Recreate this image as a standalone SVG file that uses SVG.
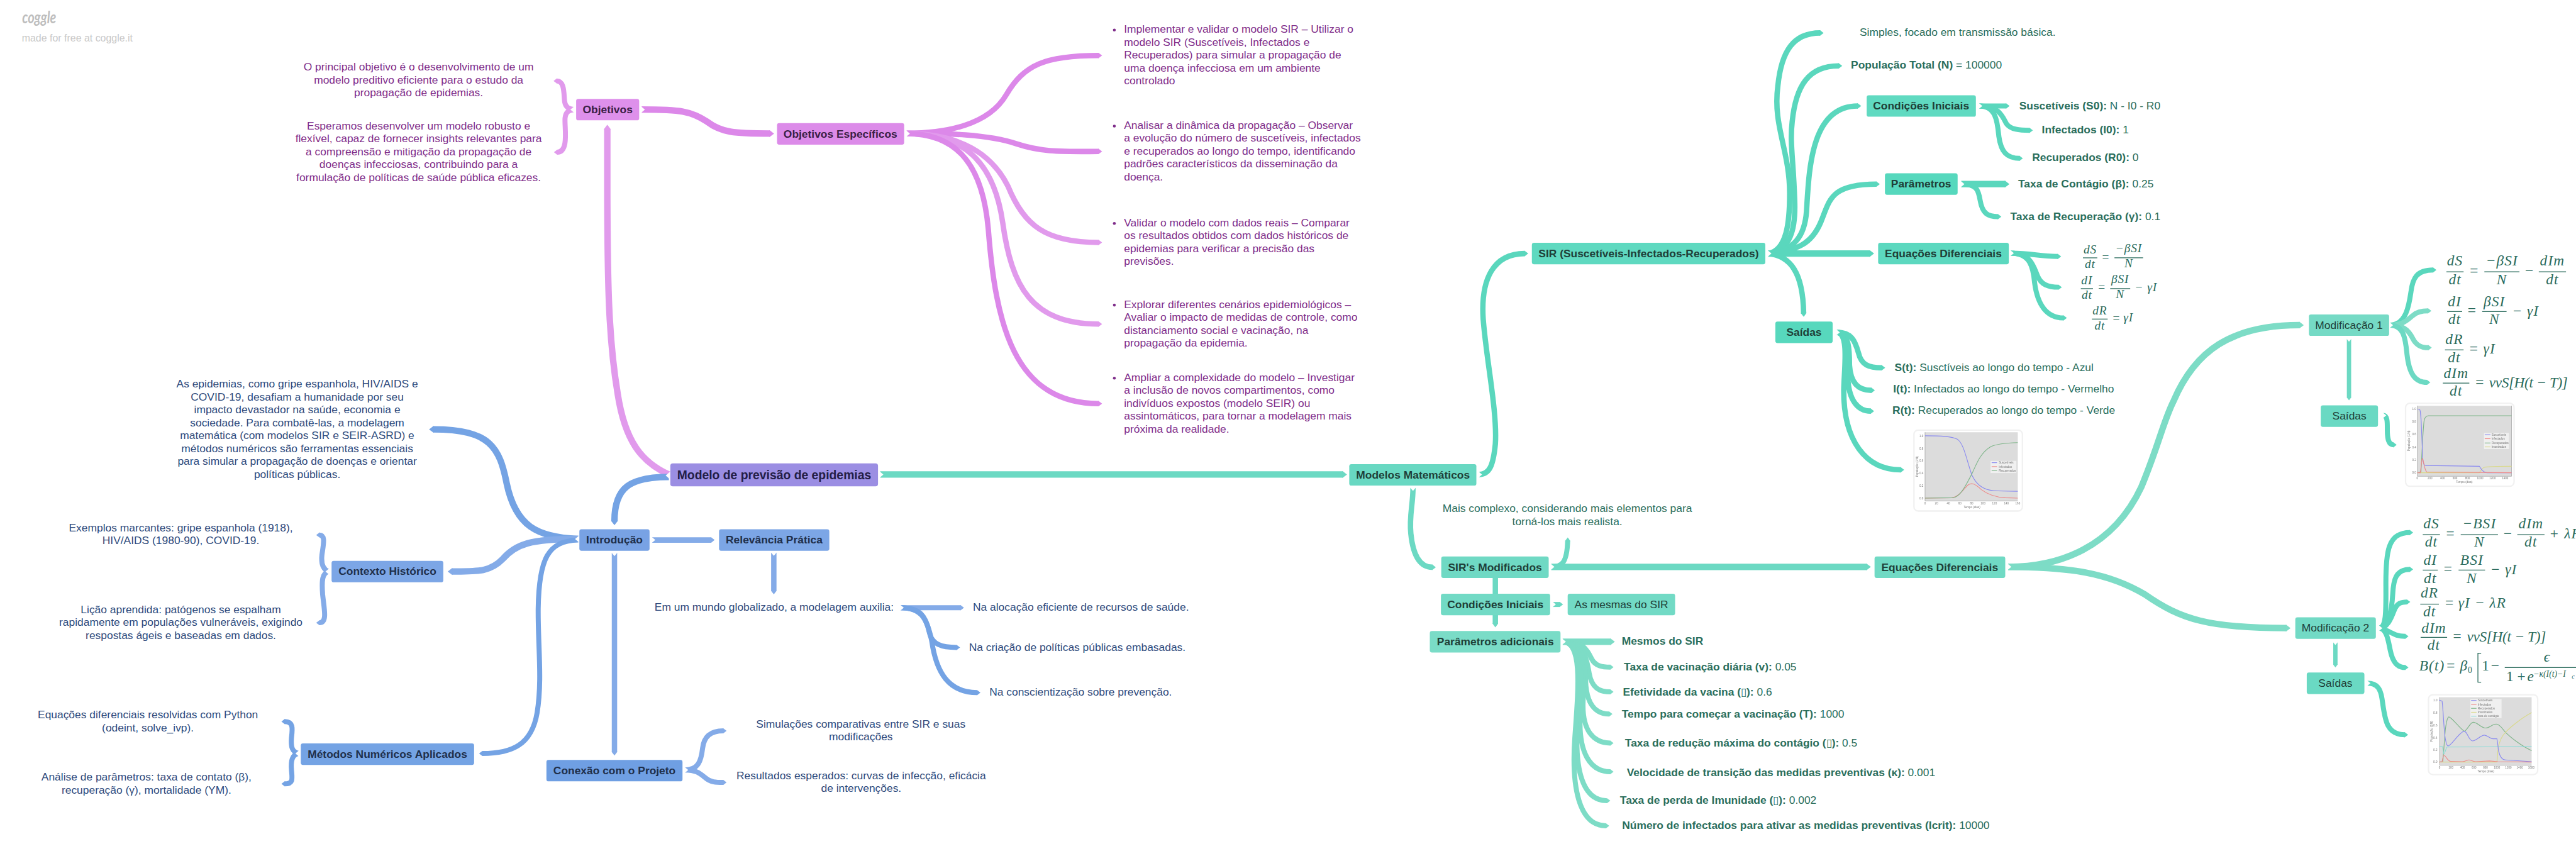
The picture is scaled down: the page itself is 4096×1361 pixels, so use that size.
<svg xmlns="http://www.w3.org/2000/svg" xmlns:xlink="http://www.w3.org/1999/xlink" width="4096" height="1361" viewBox="0 0 4096 1361">
<style>
text{font-family:"Liberation Sans",Arial,sans-serif;font-size:30.6px}
.c{text-anchor:middle}
.b{font-weight:700}
.pt{fill:#7f2d8a}.bt{fill:#2e4a7c}.gt{fill:#2a6e5c}
.pn{fill:#3a2045}.bn{fill:#1f2f4a}.gn{fill:#1f3f38}.vn{fill:#231d45}
.lb{font-weight:700;text-anchor:middle}
.r{font-weight:400}
.pk,.pl,.bl,.bk,.gr,.gl,.gm{fill:none;stroke-width:15}
.pk{stroke:#dc88e9;marker-end:url(#mpk)}
.pl{stroke:#e19aec;marker-end:url(#mpl)}
.bl{stroke:#74a3e4;marker-end:url(#mbl)}
.bk{stroke:#84abe8;marker-end:url(#mbk)}
.gr{stroke:#5ad7bd;marker-end:url(#mgr)}
.gl{stroke:#7ddcc6;marker-end:url(#mgl)}
.gm{stroke:#6cd9c3;marker-end:url(#mgm)}
.w18{stroke-width:18}.w14{stroke-width:14}.w12{stroke-width:12}
.m1,.m2,.mu1,.mu2,.ms{font-family:"Liberation Serif","Times New Roman",serif;fill:#2a6b5c}
.m1,.m2,.ms{font-style:italic}
.m1{letter-spacing:1.5px}.m2{letter-spacing:2px}
.m1,.mu1{font-size:34px}.m2,.mu2{font-size:41px}.ms{font-size:24px}
.fl{stroke:#2a6b5c;stroke-width:2.2}
.plt{fill:#777;font-size:8px}
.pll{fill:none;stroke-width:2}
</style>
<defs>
<marker id="mpk" viewBox="-0.1 -0.6 1 1.2" refX="0" refY="0" markerWidth="1" markerHeight="1.2" orient="auto" markerUnits="strokeWidth"><path d="M-.1-.5L0-.5L.65 0L0 .5L-.1 .5Z" fill="#dc88e9"/></marker>
<marker id="mpl" viewBox="-0.1 -0.6 1 1.2" refX="0" refY="0" markerWidth="1" markerHeight="1.2" orient="auto" markerUnits="strokeWidth"><path d="M-.1-.5L0-.5L.65 0L0 .5L-.1 .5Z" fill="#e19aec"/></marker>
<marker id="mbl" viewBox="-0.1 -0.6 1 1.2" refX="0" refY="0" markerWidth="1" markerHeight="1.2" orient="auto" markerUnits="strokeWidth"><path d="M-.1-.5L0-.5L.65 0L0 .5L-.1 .5Z" fill="#74a3e4"/></marker>
<marker id="mbk" viewBox="-0.1 -0.6 1 1.2" refX="0" refY="0" markerWidth="1" markerHeight="1.2" orient="auto" markerUnits="strokeWidth"><path d="M-.1-.5L0-.5L.65 0L0 .5L-.1 .5Z" fill="#84abe8"/></marker>
<marker id="mgr" viewBox="-0.1 -0.6 1 1.2" refX="0" refY="0" markerWidth="1" markerHeight="1.2" orient="auto" markerUnits="strokeWidth"><path d="M-.1-.5L0-.5L.65 0L0 .5L-.1 .5Z" fill="#5ad7bd"/></marker>
<marker id="mgl" viewBox="-0.1 -0.6 1 1.2" refX="0" refY="0" markerWidth="1" markerHeight="1.2" orient="auto" markerUnits="strokeWidth"><path d="M-.1-.5L0-.5L.65 0L0 .5L-.1 .5Z" fill="#7ddcc6"/></marker>
<marker id="mgm" viewBox="-0.1 -0.6 1 1.2" refX="0" refY="0" markerWidth="1" markerHeight="1.2" orient="auto" markerUnits="strokeWidth"><path d="M-.1-.5L0-.5L.65 0L0 .5L-.1 .5Z" fill="#6cd9c3"/></marker>
<polygon id="n" points="-2,-11 11,0 -2,11" fill="#fff"/>
<filter id="blur"><feGaussianBlur stdDeviation="0.7"/></filter>
</defs>
<rect width="4096" height="1361" fill="#fff"/>
<g transform="scale(0.56937)">
<g id="watermark">
<text x="62" y="65" style="font-family:'Lato',sans-serif;font-style:italic;font-weight:700;font-size:48px;fill:#bdbdbd" textLength="95" lengthAdjust="spacingAndGlyphs">coggle</text>
<text x="61" y="116" style="font-size:28px;fill:#c8c8c8">made for free at coggle.it</text>
</g>
<g id="connectors">
<path class="pl w14" d="M1604,306C1588,304 1580,300 1577,285C1574,265 1578,226 1555,226"/>
<path class="pl w14" d="M1604,306C1588,308 1580,312 1578,330C1576,355 1590,425 1556,425"/>
<path class="pk w18" d="M1792,306C1900,306 1930,310 1975,340C2015,370 2050,373 2150,373"/>
<path class="pl w18" d="M1868,1325C1790,1290 1745,1230 1725,1100C1700,950 1696,800 1696,500L1696,360"/>
<path class="pk" d="M2532,372C2640,372 2760,350 2810,265C2860,180 2920,155 3068,155"/>
<path class="pk" d="M2532,372C2640,372 2760,375 2840,402C2910,425 2960,423 3068,423"/>
<path class="pl" d="M2532,373C2680,373 2770,430 2815,520C2860,630 2920,677 3068,677"/>
<path class="pl" d="M2532,373C2690,373 2775,450 2800,620C2825,800 2880,905 3068,905"/>
<path class="pk" d="M2532,373C2680,373 2745,470 2760,640C2780,900 2830,1127 3068,1127"/>
<path class="bl w18" d="M1868,1332C1760,1332 1716,1360 1716,1455"/>
<path class="bl w18" d="M1615,1505C1500,1500 1440,1470 1415,1350C1395,1250 1370,1199 1210,1199"/>
<path class="bk w18" d="M1615,1505C1480,1505 1440,1520 1405,1560C1370,1596 1340,1596 1262,1596"/>
<path class="bl w14" d="M1615,1508C1530,1510 1505,1560 1503,1700C1502,1800 1515,1900 1500,1990C1485,2080 1430,2104 1347,2104"/>
<path class="bk" d="M1821,1508L1986,1508"/>
<path class="bk" d="M1716,1544L1716,2100"/>
<path class="bk" d="M2161,1543L2161,1650"/>
<path class="bk w14" d="M918,1596C900,1590 897,1570 899,1550C903,1520 910,1494 892,1494"/>
<path class="bk w14" d="M918,1596C900,1600 898,1620 901,1660C905,1700 915,1739 892,1739"/>
<path class="bl w14" d="M834,2104C815,2100 812,2085 814,2060C817,2035 820,2015 795,2015"/>
<path class="bl w14" d="M834,2104C815,2108 812,2125 814,2150C816,2175 820,2189 795,2189"/>
<path class="bk w14" d="M1913,2150C1950,2150 1958,2125 1962,2090C1966,2055 1985,2041 2020,2041"/>
<path class="bk w14" d="M1913,2150C1945,2150 1955,2160 1970,2172C1985,2185 2000,2185 2020,2185"/>
<path class="bk w14" d="M2515,1697L2683,1697"/>
<path class="bl w14" d="M2515,1697C2570,1697 2585,1720 2595,1765C2602,1800 2630,1808 2672,1808"/>
<path class="bl w14" d="M2515,1697C2575,1697 2590,1730 2602,1790C2615,1880 2650,1934 2729,1934"/>
<path class="gm w18" d="M2458,1325L3750,1325"/>
<path class="gr" d="M4130,1325C4160,1325 4170,1300 4176,1240C4182,1150 4150,1000 4142,890C4135,780 4170,708 4258,708"/>
<path class="gm" d="M3946,1362C3946,1410 3935,1440 3940,1490C3946,1550 3965,1584 4000,1584"/>
<path class="gm w14" d="M4332,1583C4360,1583 4376,1575 4378,1510"/>
<path class="gm w18" d="M4332,1583L5213,1583"/>
<path class="gm" d="M4176,1610L4176,1742"/>
<path class="gm w14" d="M4336,1688L4356,1688"/>
<path class="gl w18" d="M4364,1792L4498,1792"/>
<path class="gl w14" d="M4364,1792C4420,1792 4430,1810 4445,1840C4455,1860 4475,1863 4497,1863"/>
<path class="gl w14" d="M4364,1792C4420,1792 4430,1830 4438,1880C4445,1920 4465,1932 4497,1932"/>
<path class="gl w14" d="M4364,1792C4420,1792 4428,1850 4428,1900C4430,1965 4455,1994 4494,1994"/>
<path class="gl w14" d="M4364,1792C4420,1792 4425,1870 4421,1960C4418,2040 4450,2075 4497,2075"/>
<path class="gl w14" d="M4364,1792C4420,1792 4420,1900 4413,2000C4408,2100 4440,2155 4497,2155"/>
<path class="gl w14" d="M4364,1792C4420,1792 4415,1900 4405,2030C4398,2150 4420,2236 4488,2236"/>
<path class="gl w14" d="M4364,1792C4420,1792 4408,1920 4398,2060C4388,2200 4410,2306 4485,2306"/>
<path class="gr" d="M4938,708C4990,700 4998,620 4998,540C4998,420 4950,350 4965,240C4975,140 5010,92 5083,92"/>
<path class="gr" d="M4938,708C5000,700 5015,640 5012,560C5008,440 4998,400 5005,340C5015,240 5050,184 5135,184"/>
<path class="gr" d="M4938,708C5010,700 5040,660 5045,590C5052,480 5055,296 5188,296"/>
<path class="gr" d="M4938,708C5020,700 5060,680 5085,620C5110,560 5110,514 5240,514"/>
<path class="gr w18" d="M4938,708L5222,708"/>
<path class="gr" d="M4938,708C5000,715 5035,760 5037,875"/>
<path class="gr w14" d="M5527,296L5603,296"/>
<path class="gr w14" d="M5527,296C5580,296 5590,320 5603,345C5615,362 5640,364 5668,364"/>
<path class="gr w14" d="M5527,296C5575,296 5578,340 5582,380C5588,425 5605,442 5640,442"/>
<path class="gr w18" d="M5477,514L5600,514"/>
<path class="gr w14" d="M5477,514C5520,514 5525,530 5530,560C5536,595 5550,605 5580,605"/>
<path class="gr w14" d="M5615,707C5680,707 5690,716 5747,716"/>
<path class="gr w14" d="M5615,707C5670,707 5678,740 5690,770C5700,795 5720,802 5749,802"/>
<path class="gr w14" d="M5615,707C5670,707 5678,745 5682,790C5690,850 5715,888 5763,888"/>
<path class="gr" d="M5129,928C5170,928 5180,950 5190,985C5198,1020 5220,1027 5255,1027"/>
<path class="gr" d="M5129,928C5165,928 5165,980 5165,1020C5168,1070 5190,1090 5226,1090"/>
<path class="gr" d="M5129,928C5165,928 5160,1000 5160,1050C5162,1120 5190,1148 5224,1148"/>
<path class="gr" d="M5129,928C5165,928 5150,1030 5149,1090C5148,1230 5210,1312 5308,1312"/>
<path class="gl w18" d="M5608,1583C5750,1583 5900,1530 5980,1360C6030,1240 6040,1180 6070,1120C6130,980 6230,908 6422,908"/>
<path class="gl w18" d="M5608,1583C5780,1583 5890,1600 5990,1660C6090,1730 6170,1754 6385,1754"/>
<path class="gr w14" d="M6674,908C6720,908 6728,850 6733,815C6738,775 6750,754 6795,754"/>
<path class="gl w14" d="M6674,908C6715,908 6725,890 6740,880C6750,870 6765,868 6781,868"/>
<path class="gl w14" d="M6674,908C6710,908 6725,920 6738,945C6748,965 6762,971 6782,971"/>
<path class="gm w14" d="M6674,908C6715,908 6718,950 6722,990C6728,1045 6745,1068 6778,1068"/>
<path class="gm w12" d="M6560,945L6560,1110"/>
<path class="gr w14" d="M6655,1160C6668,1160 6667,1180 6667,1200C6667,1230 6672,1242 6684,1242"/>
<path class="gr w14" d="M6644,1754C6665,1754 6663,1700 6663,1640C6662,1540 6668,1487 6730,1487"/>
<path class="gr w14" d="M6644,1754C6670,1754 6680,1700 6682,1660C6684,1620 6690,1590 6730,1590"/>
<path class="gr w14" d="M6644,1754C6670,1754 6680,1720 6688,1700C6695,1685 6705,1681 6722,1681"/>
<path class="gr w14" d="M6644,1754C6665,1754 6680,1777 6717,1777"/>
<path class="gr w14" d="M6644,1754C6665,1754 6670,1790 6675,1815C6682,1850 6695,1864 6717,1864"/>
<path class="gm w12" d="M6522,1792L6522,1856"/>
<path class="gr w14" d="M6611,1908C6640,1908 6648,1925 6652,1950C6660,2000 6660,2052 6716,2052"/>
<use href="#n" transform="translate(1604,306) rotate(180)"/>
<use href="#n" transform="translate(1790,306)"/>
<use href="#n" transform="translate(1870,1328) rotate(180)"/>
<use href="#n" transform="translate(2456,1325)"/>
<use href="#n" transform="translate(2530,373)"/>
<use href="#n" transform="translate(1617,1505) rotate(180)"/>
<use href="#n" transform="translate(1819,1508)"/>
<use href="#n" transform="translate(1716,1542) rotate(90)"/>
<use href="#n" transform="translate(2161,1541) rotate(90)"/>
<use href="#n" transform="translate(920,1596) rotate(180)"/>
<use href="#n" transform="translate(836,2104) rotate(180)"/>
<use href="#n" transform="translate(1911,2150)"/>
<use href="#n" transform="translate(2513,1697)"/>
<use href="#n" transform="translate(4128,1325)"/>
<use href="#n" transform="translate(3946,1360) rotate(90)"/>
<use href="#n" transform="translate(4330,1583)"/>
<use href="#n" transform="translate(4334,1688)"/>
<use href="#n" transform="translate(4362,1792)"/>
<use href="#n" transform="translate(4936,708)"/>
<use href="#n" transform="translate(5525,296)"/>
<use href="#n" transform="translate(5475,514)"/>
<use href="#n" transform="translate(5613,707)"/>
<use href="#n" transform="translate(5127,928)"/>
<use href="#n" transform="translate(5606,1583)"/>
<use href="#n" transform="translate(6672,908)"/>
<use href="#n" transform="translate(6560,943) rotate(90)"/>
<use href="#n" transform="translate(6653,1160)"/>
<use href="#n" transform="translate(6642,1754)"/>
<use href="#n" transform="translate(6522,1790) rotate(90)"/>
<use href="#n" transform="translate(6609,1908)"/>
</g>

<g id="node-root"><rect x="1872" y="1294" width="580" height="64" rx="7" fill="#9b8ee3"/><text class="lb vn" x="2162" y="1338" style="font-size:34px">Modelo de previsão de epidemias</text></g>
<g id="node-objetivos"><rect x="1609" y="276" width="176" height="60" rx="6" fill="#de90eb"/><text class="lb pn" x="1697" y="316">Objetivos</text></g>
<g id="node-obj-esp"><rect x="2170" y="344" width="355" height="60" rx="6" fill="#dc8be9"/><text class="lb pn" x="2347" y="384">Objetivos Específicos</text></g>
<g id="text-obj-1" class="pt"><text class="c pt" x="1169" y="197">O principal objetivo é o desenvolvimento de um</text><text class="c pt" x="1169" y="233">modelo preditivo eficiente para o estudo da</text><text class="c pt" x="1169" y="269">propagação de epidemias.</text></g>
<g id="text-obj-2"><text class="c pt" x="1169" y="361">Esperamos desenvolver um modelo robusto e</text><text class="c pt" x="1169" y="397">flexível, capaz de fornecer insights relevantes para</text><text class="c pt" x="1169" y="433">a compreensão e mitigação da propagação de</text><text class="c pt" x="1169" y="469">doenças infecciosas, contribuindo para a</text><text class="c pt" x="1169" y="505">formulação de políticas de saúde pública eficazes.</text></g>
<g id="item-1"><circle cx="3112" cy="84" r="4" fill="#7f2d8a"/><text class="pt" x="3139" y="92">Implementar e validar o modelo SIR – Utilizar o</text><text class="pt" x="3139" y="128">modelo SIR (Suscetíveis, Infectados e</text><text class="pt" x="3139" y="164">Recuperados) para simular a propagação de</text><text class="pt" x="3139" y="200">uma doença infecciosa em um ambiente</text><text class="pt" x="3139" y="236">controlado</text></g>
<g id="item-2"><circle cx="3112" cy="352" r="4" fill="#7f2d8a"/><text class="pt" x="3139" y="360">Analisar a dinâmica da propagação – Observar</text><text class="pt" x="3139" y="396">a evolução do número de suscetíveis, infectados</text><text class="pt" x="3139" y="432">e recuperados ao longo do tempo, identificando</text><text class="pt" x="3139" y="468">padrões característicos da disseminação da</text><text class="pt" x="3139" y="504">doença.</text></g>
<g id="item-3"><circle cx="3112" cy="624" r="4" fill="#7f2d8a"/><text class="pt" x="3139" y="632">Validar o modelo com dados reais – Comparar</text><text class="pt" x="3139" y="668">os resultados obtidos com dados históricos de</text><text class="pt" x="3139" y="704">epidemias para verificar a precisão das</text><text class="pt" x="3139" y="740">previsões.</text></g>
<g id="item-4"><circle cx="3112" cy="852" r="4" fill="#7f2d8a"/><text class="pt" x="3139" y="860">Explorar diferentes cenários epidemiológicos –</text><text class="pt" x="3139" y="896">Avaliar o impacto de medidas de controle, como</text><text class="pt" x="3139" y="932">distanciamento social e vacinação, na</text><text class="pt" x="3139" y="968">propagação da epidemia.</text></g>
<g id="item-5"><circle cx="3112" cy="1056" r="4" fill="#7f2d8a"/><text class="pt" x="3139" y="1064">Ampliar a complexidade do modelo – Investigar</text><text class="pt" x="3139" y="1100">a inclusão de novos compartimentos, como</text><text class="pt" x="3139" y="1136">indivíduos expostos (modelo SEIR) ou</text><text class="pt" x="3139" y="1172">assintomáticos, para tornar a modelagem mais</text><text class="pt" x="3139" y="1208">próxima da realidade.</text></g>

<g id="node-intro"><rect x="1618" y="1478" width="196" height="60" rx="6" fill="#78a2e4"/><text class="lb bn" x="1716" y="1518">Introdução</text></g>
<g id="node-relevancia"><rect x="2008" y="1478" width="308" height="60" rx="6" fill="#7ca6e6"/><text class="lb bn" x="2162" y="1518">Relevância Prática</text></g>
<g id="node-contexto"><rect x="926" y="1566" width="312" height="60" rx="6" fill="#7ca6e6"/><text class="lb bn" x="1082" y="1606">Contexto Histórico</text></g>
<g id="node-metodos"><rect x="840" y="2076" width="484" height="60" rx="6" fill="#74a3e4"/><text class="lb bn" x="1082" y="2116">Métodos Numéricos Aplicados</text></g>
<g id="node-conexao"><rect x="1526" y="2122" width="380" height="60" rx="6" fill="#6f9fe3"/><text class="lb bn" x="1716" y="2162">Conexão com o Projeto</text></g>
<g id="text-epidemias"><text class="c bt" x="830" y="1082">As epidemias, como gripe espanhola, HIV/AIDS e</text><text class="c bt" x="830" y="1118">COVID-19, desafiam a humanidade por seu</text><text class="c bt" x="830" y="1154">impacto devastador na saúde, economia e</text><text class="c bt" x="830" y="1190">sociedade. Para combatê-las, a modelagem</text><text class="c bt" x="830" y="1226">matemática (com modelos SIR e SEIR-ASRD) e</text><text class="c bt" x="830" y="1262">métodos numéricos são ferramentas essenciais</text><text class="c bt" x="830" y="1298">para simular a propagação de doenças e orientar</text><text class="c bt" x="830" y="1334">políticas públicas.</text></g>
<g id="text-exemplos"><text class="c bt" x="505" y="1484">Exemplos marcantes: gripe espanhola (1918),</text><text class="c bt" x="505" y="1520">HIV/AIDS (1980-90), COVID-19.</text></g>
<g id="text-licao"><text class="c bt" x="505" y="1712">Lição aprendida: patógenos se espalham</text><text class="c bt" x="505" y="1748">rapidamente em populações vulneráveis, exigindo</text><text class="c bt" x="505" y="1784">respostas ágeis e baseadas em dados.</text></g>
<g id="text-equacoes"><text class="c bt" x="413" y="2006">Equações diferenciais resolvidas com Python</text><text class="c bt" x="413" y="2042">(odeint, solve_ivp).</text></g>
<g id="text-analise"><text class="c bt" x="409" y="2180">Análise de parâmetros: taxa de contato (β),</text><text class="c bt" x="409" y="2216">recuperação (γ), mortalidade (YM).</text></g>
<g id="text-mundo"><text class="c bt" x="2162" y="1706">Em um mundo globalizado, a modelagem auxilia:</text></g>
<g id="text-alocacao"><text class="bt" x="2717" y="1706">Na alocação eficiente de recursos de saúde.</text></g>
<g id="text-criacao"><text class="bt" x="2706" y="1818">Na criação de políticas públicas embasadas.</text></g>
<g id="text-consc"><text class="bt" x="2763" y="1942">Na conscientização sobre prevenção.</text></g>
<g id="text-simul"><text class="c bt" x="2404" y="2032">Simulações comparativas entre SIR e suas</text><text class="c bt" x="2404" y="2068">modificações</text></g>
<g id="text-result"><text class="c bt" x="2405" y="2176">Resultados esperados: curvas de infecção, eficácia</text><text class="c bt" x="2405" y="2212">de intervenções.</text></g>

<g id="node-modelos"><rect x="3768" y="1296" width="355" height="60" rx="6" fill="#68d8c2"/><text class="lb gn" x="3946" y="1336">Modelos Matemáticos</text></g>
<g id="node-sir"><rect x="4278" y="678" width="652" height="60" rx="6" fill="#5fd9c0"/><text class="lb gn" x="4604" y="718">SIR (Suscetíveis-Infectados-Recuperados)</text></g>
<g id="node-sirmod"><rect x="4025" y="1554" width="300" height="60" rx="6" fill="#6fd9c4"/><text class="lb gn" x="4175" y="1594">SIR's Modificados</text></g>
<g id="node-cond2"><rect x="4024" y="1658" width="305" height="60" rx="6" fill="#72dac5"/><text class="lb gn" x="4176" y="1698">Condições Iniciais</text></g>
<g id="node-mesmas"><rect x="4378" y="1658" width="300" height="60" rx="6" fill="#72dac5"/><text class="c gn" x="4528" y="1698">As mesmas do SIR</text></g>
<g id="node-param2"><rect x="3993" y="1762" width="365" height="60" rx="6" fill="#7adcc7"/><text class="lb gn" x="4176" y="1802">Parâmetros adicionais</text></g>
<g id="node-cond1"><rect x="5213" y="266" width="305" height="60" rx="6" fill="#60dac1"/><text class="lb gn" x="5365" y="306">Condições Iniciais</text></g>
<g id="node-param1"><rect x="5264" y="484" width="203" height="60" rx="6" fill="#56d8bd"/><text class="lb gn" x="5365" y="524">Parâmetros</text></g>
<g id="node-eq1"><rect x="5245" y="678" width="365" height="60" rx="6" fill="#5cd8bf"/><text class="lb gn" x="5427" y="718">Equações Diferenciais</text></g>
<g id="node-saidas1"><rect x="4958" y="898" width="160" height="60" rx="6" fill="#57d8bd"/><text class="lb gn" x="5038" y="938">Saídas</text></g>
<g id="node-eq2"><rect x="5235" y="1554" width="365" height="60" rx="6" fill="#70dac4"/><text class="lb gn" x="5417" y="1594">Equações Diferenciais</text></g>
<g id="node-mod1"><rect x="6448" y="878" width="224" height="60" rx="6" fill="#75dac5"/><text class="c gn" x="6560" y="918">Modificação 1</text></g>
<g id="node-saidas-m1"><rect x="6481" y="1132" width="160" height="60" rx="6" fill="#6ad9c3"/><text class="c gn" x="6561" y="1172">Saídas</text></g>
<g id="node-mod2"><rect x="6410" y="1724" width="225" height="60" rx="6" fill="#72dac5"/><text class="c gn" x="6522" y="1764">Modificação 2</text></g>
<g id="node-saidas-m2"><rect x="6442" y="1878" width="161" height="60" rx="6" fill="#6ad9c3"/><text class="c gn" x="6522" y="1918">Saídas</text></g>

<g id="text-mais"><text class="c gt" x="4377" y="1430">Mais complexo, considerando mais elementos para</text><text class="c gt" x="4377" y="1466">torná-los mais realista.</text></g>
<g id="text-simples"><text class="c gt" x="5467" y="100">Simples, focado em transmissão básica.</text></g>
<g id="text-pop"><text class="gt" x="5169" y="192"><tspan class="b">População Total (N)</tspan> = 100000</text></g>
<g id="text-s0"><text class="gt" x="5639" y="305"><tspan class="b">Suscetíveis (S0):</tspan> N - I0 - R0</text></g>
<g id="text-i0"><text class="gt" x="5702" y="372"><tspan class="b">Infectados (I0):</tspan> 1</text></g>
<g id="text-r0"><text class="gt" x="5675" y="450"><tspan class="b">Recuperados (R0):</tspan> 0</text></g>
<g id="text-beta"><text class="gt" x="5636" y="523"><tspan class="b">Taxa de Contágio (β):</tspan> 0.25</text></g>
<g id="text-gamma"><text class="gt" x="5614" y="615"><tspan class="b">Taxa de Recuperação (γ):</tspan> 0.1</text></g>
<g id="text-st"><text class="gt" x="5291" y="1036"><tspan class="b">S(t):</tspan> Susctíveis ao longo do tempo - Azul</text></g>
<g id="text-it"><text class="gt" x="5287" y="1096"><tspan class="b">I(t):</tspan> Infectados ao longo do tempo - Vermelho</text></g>
<g id="text-rt"><text class="gt" x="5285" y="1156"><tspan class="b">R(t):</tspan> Recuperados ao longo do tempo - Verde</text></g>
<g id="text-mesmos"><text class="gt b" x="4529" y="1801">Mesmos do SIR</text></g>
<g id="text-v"><text class="gt" x="4535" y="1873"><tspan class="b">Taxa de vacinação diária (v):</tspan> 0.05</text></g>
<g id="text-efet"><text class="gt" x="4532" y="1942"><tspan class="b">Efetividade da vacina (</tspan><tspan>▯</tspan><tspan class="b">):</tspan> 0.6</text></g>
<g id="text-t"><text class="gt" x="4529" y="2004"><tspan class="b">Tempo para começar a vacinação (T):</tspan> 1000</text></g>
<g id="text-red"><text class="gt" x="4538" y="2084"><tspan class="b">Taxa de redução máxima do contágio (</tspan><tspan>▯</tspan><tspan class="b">):</tspan> 0.5</text></g>
<g id="text-vel"><text class="gt" x="4543" y="2167"><tspan class="b">Velocidade de transição das medidas preventivas (κ):</tspan> 0.001</text></g>
<g id="text-perda"><text class="gt" x="4524" y="2244"><tspan class="b">Taxa de perda de Imunidade (</tspan><tspan>▯</tspan><tspan class="b">):</tspan> 0.002</text></g>
<g id="text-num"><text class="gt" x="4530" y="2314"><tspan class="b">Número de infectados para ativar as medidas preventivas (Icrit):</tspan> 10000</text></g>

<g id="eq-sir">
<text class="m1 c" x="5837" y="707">dS</text><line class="fl" x1="5817" x2="5857" y1="720" y2="720"/><text class="m1 c" x="5837" y="748">dt</text><text class="mu1 c" x="5880" y="728">=</text><line class="fl" x1="5905" x2="5985" y1="720" y2="720"/><text class="m1 c" x="5945" y="705">−βSI</text><text class="m1 c" x="5945" y="747">N</text>
<text class="m1 c" x="5828" y="793">dI</text><line class="fl" x1="5811" x2="5845" y1="806" y2="806"/><text class="m1 c" x="5828" y="834">dt</text><text class="mu1 c" x="5869" y="814">=</text><line class="fl" x1="5893" x2="5949" y1="806" y2="806"/><text class="m1 c" x="5921" y="791">βSI</text><text class="m1 c" x="5921" y="832">N</text><text class="m1" x="5962" y="813">− γI</text>
<text class="m1 c" x="5864" y="878">dR</text><line class="fl" x1="5842" x2="5886" y1="891" y2="891"/><text class="m1 c" x="5864" y="921">dt</text><text class="mu1 c" x="5910" y="899">=</text><text class="m1" x="5930" y="898">γI</text>
</g>
<g id="eq-mod1">
<text class="m2 c" x="6856" y="742">dS</text><line class="fl" x1="6832" x2="6880" y1="759" y2="759"/><text class="m2 c" x="6856" y="794">dt</text><text class="mu2 c" x="6909" y="769">=</text><line class="fl" x1="6938" x2="7036" y1="759" y2="759"/><text class="m2 c" x="6987" y="742">−βSI</text><text class="m2 c" x="6987" y="794">N</text><text class="mu2 c" x="7063" y="769">−</text><line class="fl" x1="7090" x2="7166" y1="759" y2="759"/><text class="m2 c" x="7128" y="742">dIm</text><text class="m2 c" x="7128" y="794">dt</text>
<text class="m2 c" x="6855" y="856">dI</text><line class="fl" x1="6834" x2="6876" y1="870" y2="870"/><text class="m2 c" x="6855" y="905">dt</text><text class="mu2 c" x="6903" y="880">=</text><line class="fl" x1="6932" x2="7000" y1="870" y2="870"/><text class="m2 c" x="6966" y="856">βSI</text><text class="m2 c" x="6966" y="905">N</text><text class="m2" x="7015" y="881">− γI</text>
<text class="m2 c" x="6854" y="960">dR</text><line class="fl" x1="6828" x2="6880" y1="977" y2="977"/><text class="m2 c" x="6854" y="1011">dt</text><text class="mu2 c" x="6908" y="987">=</text><text class="m2" x="6935" y="987">γI</text>
<text class="m2 c" x="6859" y="1056">dIm</text><line class="fl" x1="6822" x2="6896" y1="1070" y2="1070"/><text class="m2 c" x="6859" y="1105">dt</text><text class="mu2 c" x="6925" y="1080">=</text><text class="m2" x="6951" y="1082" textLength="222" lengthAdjust="spacing">νvS[H(t − T)]</text>
</g>
<g id="eq-mod2">
<text class="m2 c" x="6790" y="1475">dS</text><line class="fl" x1="6766" x2="6814" y1="1493" y2="1493"/><text class="m2 c" x="6790" y="1527">dt</text><text class="mu2 c" x="6843" y="1503">=</text><line class="fl" x1="6872" x2="6976" y1="1493" y2="1493"/><text class="m2 c" x="6924" y="1475">−BSI</text><text class="m2 c" x="6924" y="1527">N</text><text class="mu2 c" x="7003" y="1503">−</text><line class="fl" x1="7030" x2="7106" y1="1493" y2="1493"/><text class="m2 c" x="7068" y="1475">dIm</text><text class="m2 c" x="7068" y="1527">dt</text><text class="m2" x="7119" y="1503">+ λR</text>
<text class="m2 c" x="6787" y="1577">dI</text><line class="fl" x1="6766" x2="6808" y1="1592" y2="1592"/><text class="m2 c" x="6787" y="1628">dt</text><text class="mu2 c" x="6836" y="1602">=</text><line class="fl" x1="6866" x2="6940" y1="1592" y2="1592"/><text class="m2 c" x="6903" y="1577">BSI</text><text class="m2 c" x="6903" y="1628">N</text><text class="m2" x="6954" y="1603">− γI</text>
<text class="m2 c" x="6785" y="1669">dR</text><line class="fl" x1="6759" x2="6811" y1="1687" y2="1687"/><text class="m2 c" x="6785" y="1721">dt</text><text class="mu2 c" x="6840" y="1697">=</text><text class="m2" x="6865" y="1697" textLength="134" lengthAdjust="spacing">γI − λR</text>
<text class="m2 c" x="6797" y="1766">dIm</text><line class="fl" x1="6760" x2="6834" y1="1780" y2="1780"/><text class="m2 c" x="6797" y="1815">dt</text><text class="mu2 c" x="6862" y="1790">=</text><text class="m2" x="6889" y="1792" textLength="223" lengthAdjust="spacing">νvS[H(t − T)]</text>
<text class="m2" x="6756" y="1873">B(t)</text><text class="mu2 c" x="6844" y="1873">=</text><text class="m2" x="6870" y="1873">β</text><text class="ms" x="6892" y="1880" style="font-style:normal">0</text>
<path d="M6929,1824H6920V1905H6929" fill="none" stroke="#2a6b5c" stroke-width="2.2"/>
<text class="mu2" x="6931" y="1873">1</text><text class="mu2 c" x="6968" y="1873">−</text><line class="fl" x1="6995" x2="7194" y1="1864" y2="1864"/><text class="m2 c" x="7113" y="1848">ϵ</text>
<text class="mu2" x="6999" y="1902">1 + </text><text class="m2" x="7058" y="1902">e</text><text class="ms" x="7075" y="1890">−κ(I(t)−I</text><text class="ms" x="7182" y="1895" style="font-size:18px">c</text>
</g>

<g id="plot-sir">
<rect x="5345" y="1201" width="303" height="226" rx="12" fill="#fff" stroke="#f1f1f1" stroke-width="4"/>
<g filter="url(#blur)">
<rect x="5376" y="1207" width="259" height="192" fill="#dcdcdc"/>
<path d="M5376,1207V1399H5635" fill="none" stroke="#aaa" stroke-width="1.5"/>
<path class="pll" stroke="#8a8af0" d="M5376,1217C5420,1217 5450,1218 5467,1227C5485,1240 5492,1285 5507,1327C5520,1355 5540,1368 5567,1370C5590,1372 5610,1372 5635,1372"/>
<path class="pll" stroke="#ee8a8a" d="M5376,1391L5450,1390C5470,1388 5485,1365 5495,1355C5505,1347 5515,1350 5533,1367C5550,1380 5570,1388 5600,1390L5635,1391"/>
<path class="pll" stroke="#7fb58a" d="M5376,1391L5453,1390C5475,1388 5490,1355 5507,1323C5520,1295 5530,1265 5560,1247C5575,1240 5600,1237 5635,1236"/>
<rect x="5559" y="1287" width="72" height="34" fill="#f0f0f0"/>
<line x1="5562" x2="5577" y1="1292" y2="1292" stroke="#8a8af0" stroke-width="2"/><line x1="5562" x2="5577" y1="1303" y2="1303" stroke="#ee8a8a" stroke-width="2"/><line x1="5562" x2="5577" y1="1314" y2="1314" stroke="#7fb58a" stroke-width="2"/>
<text class="plt" x="5582" y="1295">Suscetíveis</text><text class="plt" x="5582" y="1306">Infectados</text><text class="plt" x="5582" y="1317">Recuperados</text>
<text class="plt c" x="5366" y="1220">1.0</text><text class="plt c" x="5366" y="1255">0.8</text><text class="plt c" x="5366" y="1290">0.6</text><text class="plt c" x="5366" y="1325">0.4</text><text class="plt c" x="5366" y="1359">0.2</text><text class="plt c" x="5366" y="1394">0.0</text>
<text class="plt c" x="5376" y="1409">0</text><text class="plt c" x="5408" y="1409">20</text><text class="plt c" x="5441" y="1409">40</text><text class="plt c" x="5473" y="1409">60</text><text class="plt c" x="5506" y="1409">80</text><text class="plt c" x="5538" y="1409">100</text><text class="plt c" x="5570" y="1409">120</text><text class="plt c" x="5603" y="1409">140</text><text class="plt c" x="5635" y="1409">160</text>
<text class="plt c" x="5507" y="1419">Tempo (dias)</text>
<text class="plt c" transform="translate(5357,1303) rotate(-90)">População (1/N)</text>
</g>
</g>
<g id="plot-mod1">
<rect x="6718" y="1126" width="303" height="232" rx="12" fill="#fff" stroke="#f1f1f1" stroke-width="4"/>
<g filter="url(#blur)">
<rect x="6751" y="1133" width="263" height="197" fill="#dcdcdc"/>
<path d="M6751,1133V1330H7014V1133" fill="none" stroke="#aaa" stroke-width="1.5"/>
<path class="pll" stroke="#7fb58a" d="M6751,1320L6761,1318C6765,1240 6767,1190 6770,1173C6773,1163 6777,1161 6782,1161L7014,1161"/>
<path class="pll" stroke="#d9d98a" d="M6751,1320L6924,1320C6930,1310 6934,1306 6938,1305C6950,1302 6980,1302 7014,1302"/>
<path class="pll" stroke="#8a8af0" d="M6751,1142L6757,1143C6762,1146 6762,1200 6766,1280C6768,1298 6770,1300 6775,1300L6924,1302C6930,1312 6934,1318 6945,1320L7014,1320"/>
<path class="pll" stroke="#ee8a8a" d="M6751,1320L6759,1320C6762,1300 6763,1283 6765,1280C6768,1283 6770,1312 6777,1318L7014,1320"/>
<rect x="6937" y="1209" width="70" height="45" fill="#f0f0f0"/>
<line x1="6939" x2="6955" y1="1214" y2="1214" stroke="#8a8af0" stroke-width="2"/><line x1="6939" x2="6955" y1="1225" y2="1225" stroke="#ee8a8a" stroke-width="2"/><line x1="6939" x2="6955" y1="1237" y2="1237" stroke="#7fb58a" stroke-width="2"/><line x1="6939" x2="6955" y1="1248" y2="1248" stroke="#d9d98a" stroke-width="2"/>
<text class="plt" x="6958" y="1217">Suscetíveis</text><text class="plt" x="6958" y="1228">Infectados</text><text class="plt" x="6958" y="1240">Recuperados</text><text class="plt" x="6958" y="1251">Imunizados</text>
<text class="plt c" x="6742" y="1145">1.0</text><text class="plt c" x="6742" y="1180">0.8</text><text class="plt c" x="6742" y="1216">0.6</text><text class="plt c" x="6742" y="1252">0.4</text><text class="plt c" x="6742" y="1288">0.2</text><text class="plt c" x="6742" y="1323">0.0</text>
<text class="plt c" x="6751" y="1338">0</text><text class="plt c" x="6786" y="1338">200</text><text class="plt c" x="6821" y="1338">400</text><text class="plt c" x="6856" y="1338">600</text><text class="plt c" x="6891" y="1338">800</text><text class="plt c" x="6926" y="1338">1000</text><text class="plt c" x="6961" y="1338">1200</text><text class="plt c" x="6996" y="1338">1400</text>
<text class="plt c" x="6882" y="1349">Tempo (dias)</text>
<text class="plt c" transform="translate(6730,1231) rotate(-90)">População (1/N)</text>
</g>
</g>
<g id="plot-mod2">
<rect x="6782" y="1940" width="305" height="223" rx="12" fill="#fff" stroke="#f1f1f1" stroke-width="4"/>
<g filter="url(#blur)">
<rect x="6813" y="1947" width="257" height="190" fill="#dcdcdc"/>
<path d="M6813,1947V2137H7070" fill="none" stroke="#aaa" stroke-width="1.5"/>
<path class="pll" stroke="#7fb58a" d="M6812,2128L6822,2127C6826,2080 6828,2040 6830,2030C6833,2010 6836,2002 6839,2002C6846,2002 6870,2035 6882,2042C6890,2040 6898,2017 6907,2017C6918,2017 6930,2033 6941,2033C6952,2033 6960,2022 6971,2022C6982,2022 6990,2038 6997,2045C7010,2058 7040,2082 7070,2096"/>
<path class="pll" stroke="#d9d98a" d="M6812,2128L6973,2128C6975,2110 6975,2095 6978,2083C6982,2065 6990,2052 6997,2045C7008,2033 7040,2006 7070,1990"/>
<path class="pll" stroke="#8fdcd8" d="M6812,2085L6821,2085C6823,2095 6824,2105 6825,2105C6828,2105 6830,2090 6834,2086L7070,2085"/>
<path class="pll" stroke="#8a8af0" d="M6812,1955L6820,1958C6824,1990 6825,2050 6830,2068C6832,2080 6835,2083 6837,2083C6845,2083 6870,2042 6882,2042C6890,2042 6895,2069 6905,2069C6915,2069 6928,2053 6938,2053C6945,2053 6955,2063 6962,2063L6973,2063C6976,2075 6976,2090 6978,2098C6982,2115 6990,2122 6997,2122L7070,2127"/>
<path class="pll" stroke="#ee8a8a" d="M6812,2128L6820,2127C6822,2115 6823,2109 6825,2109C6830,2109 6835,2126 6844,2126L6876,2127C6885,2127 6890,2122 6895,2122C6900,2122 6905,2127 6914,2127L6952,2125L6976,2127L7070,2128"/>
<rect x="6899" y="1952" width="87" height="53" fill="#f0f0f0"/>
<line x1="6901" x2="6916" y1="1956" y2="1956" stroke="#8a8af0" stroke-width="2"/><line x1="6901" x2="6916" y1="1967" y2="1967" stroke="#ee8a8a" stroke-width="2"/><line x1="6901" x2="6916" y1="1978" y2="1978" stroke="#7fb58a" stroke-width="2"/><line x1="6901" x2="6916" y1="1989" y2="1989" stroke="#d9d98a" stroke-width="2"/><line x1="6901" x2="6916" y1="2000" y2="2000" stroke="#8fdcd8" stroke-width="2"/>
<text class="plt" x="6920" y="1959">Suscetíveis</text><text class="plt" x="6920" y="1970">Infectados</text><text class="plt" x="6920" y="1981">Recuperados</text><text class="plt" x="6920" y="1992">Imunizados</text><text class="plt" x="6920" y="2003">taxa de contágio</text>
<text class="plt c" x="6801" y="1958">1.0</text><text class="plt c" x="6801" y="1993">0.8</text><text class="plt c" x="6801" y="2028">0.6</text><text class="plt c" x="6801" y="2063">0.4</text><text class="plt c" x="6801" y="2097">0.2</text><text class="plt c" x="6801" y="2131">0.0</text>
<text class="plt c" x="6813" y="2146">0</text><text class="plt c" x="6845" y="2146">200</text><text class="plt c" x="6877" y="2146">400</text><text class="plt c" x="6909" y="2146">600</text><text class="plt c" x="6941" y="2146">800</text><text class="plt c" x="6973" y="2146">1000</text><text class="plt c" x="7005" y="2146">1200</text><text class="plt c" x="7037" y="2146">1400</text><text class="plt c" x="7069" y="2146">1600</text>
<text class="plt c" x="6942" y="2156">Tempo (dias)</text>
<text class="plt c" transform="translate(6793,2042) rotate(-90)">População (1/N)</text>
</g>
</g>
</g>
</svg>
